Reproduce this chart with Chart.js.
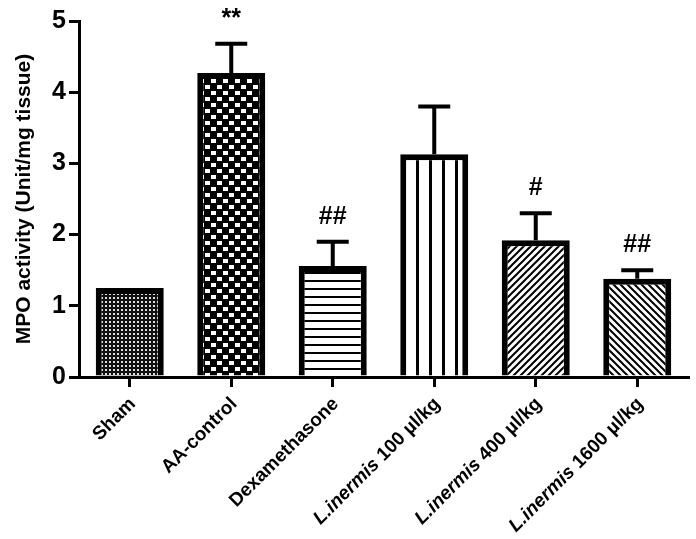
<!DOCTYPE html>
<html>
<head>
<meta charset="utf-8">
<script src="https://cdn.jsdelivr.net/npm/chart.js@4.4.0/dist/chart.umd.min.js"></script>
<style>
  html, body { margin: 0; padding: 0; background: #fff; }
</style>
</head>
<body>
<canvas id="chart" width="696" height="539"></canvas>
<script>
// ---------------------------------------------------------------------------
// Data
// ---------------------------------------------------------------------------
var groupPrefix = ['', '', '', 'L.inermis ', 'L.inermis ', 'L.inermis '];   // italic part
var groupNames  = ['Sham', 'AA-control', 'Dexamethasone', '100 µl/kg', '400 µl/kg', '1600 µl/kg'];
var means  = [1.25, 4.27, 1.56, 3.13, 1.92, 1.38];
var sems   = [0, 0.41, 0.34, 0.67, 0.38, 0.12];
var marks  = ['', '**', '##', '', '#', '##'];
var yTicks = [0, 1, 2, 3, 4, 5];

var FONT = "'Liberation Sans', Arial, sans-serif";

// ---------------------------------------------------------------------------
// Fill patterns for the bars
// ---------------------------------------------------------------------------
function makePattern(size, draw) {
  let c = document.createElement('canvas');
  c.width = size; c.height = size;
  let g = c.getContext('2d');
  draw(g, size);
  return document.getElementById('chart').getContext('2d').createPattern(c, 'repeat');
}

var patterns = [
  // dense dots
  makePattern(4, (g, s) => { g.fillStyle = '#111'; g.fillRect(0, 0, s, s); g.fillStyle = '#ddd'; g.fillRect(1, 1, 2, 2); }),
  // checkerboard
  makePattern(12, (g, s) => { g.fillStyle = '#000'; g.fillRect(0, 0, s, s); g.fillStyle = '#fff'; g.fillRect(1, 1, 5, 4); g.fillRect(7, 7, 5, 4); }),
  // horizontal lines
  makePattern(8, (g, s) => { g.fillStyle = '#fff'; g.fillRect(0, 0, s, s); g.fillStyle = '#000'; g.fillRect(0, 0, s, 2); }),
  // vertical lines
  makePattern(13, (g, s) => { g.fillStyle = '#fff'; g.fillRect(0, 0, s, s); g.fillStyle = '#000'; g.fillRect(0, 0, 3, s); }),
  // diagonal /
  makePattern(7, (g, s) => {
    g.fillStyle = '#fff'; g.fillRect(0, 0, s, s);
    g.strokeStyle = '#000'; g.lineWidth = 2;
    g.beginPath(); g.moveTo(-1, s + 1); g.lineTo(s + 1, -1);
    g.moveTo(-1, 1); g.lineTo(1, -1); g.moveTo(s - 1, s + 1); g.lineTo(s + 1, s - 1); g.stroke();
  }),
  // diagonal \
  makePattern(7, (g, s) => {
    g.fillStyle = '#fff'; g.fillRect(0, 0, s, s);
    g.strokeStyle = '#000'; g.lineWidth = 2;
    g.beginPath(); g.moveTo(-1, -1); g.lineTo(s + 1, s + 1);
    g.moveTo(s - 1, -1); g.lineTo(s + 1, 1); g.moveTo(-1, s - 1); g.lineTo(1, s + 1); g.stroke();
  })
];

// ---------------------------------------------------------------------------
// Plugin: error bars, significance marks and the mixed-style x labels
// ---------------------------------------------------------------------------
var extras = {
  id: 'extras',
  afterDatasetsDraw(chart) {
    let ctx = chart.ctx;
    let y = chart.scales.y;
    let meta = chart.getDatasetMeta(0);
    ctx.save();
    ctx.strokeStyle = '#000';
    ctx.lineWidth = 4;
    meta.data.forEach((bar, i) => {
      let top = y.getPixelForValue(means[i] + sems[i]);
      if (sems[i] > 0) {
        ctx.beginPath();
        ctx.moveTo(bar.x, bar.y);
        ctx.lineTo(bar.x, top);
        ctx.moveTo(bar.x - 16, top);
        ctx.lineTo(bar.x + 16, top);
        ctx.stroke();
      }
      if (marks[i]) {
        ctx.fillStyle = '#000';
        ctx.font = 'bold 25px ' + FONT;
        ctx.textAlign = 'center';
        ctx.textBaseline = 'middle';
        ctx.fillText(marks[i], bar.x, top - 25);
      }
    });
    ctx.restore();
  },
  afterDraw(chart) {
    let ctx = chart.ctx;
    let x = chart.scales.x;
    ctx.save();
    ctx.fillStyle = '#000';
    ctx.textBaseline = 'middle';
    ctx.textAlign = 'right';
    groupNames.forEach((name, i) => {
      let px = x.getPixelForValue(i);
      ctx.save();
      ctx.translate(px + 3, x.top + 24);
      ctx.rotate(-Math.PI / 4);
      ctx.font = 'bold 19px ' + FONT;
      let w = ctx.measureText(name).width;
      ctx.fillText(name, 0, 0);
      if (groupPrefix[i]) {
        ctx.font = 'italic bold 19px ' + FONT;
        ctx.fillText(groupPrefix[i], -w, 0);
      }
      ctx.restore();
    });
    ctx.restore();
  }
};

// ---------------------------------------------------------------------------
// Chart
// ---------------------------------------------------------------------------
var ctx = document.getElementById('chart').getContext('2d');
var chart = new Chart(ctx, {
  type: 'bar',
  data: {
    labels: groupNames.map((n, i) => groupPrefix[i] + n),
    datasets: [{
      data: means,
      backgroundColor: patterns,
      borderColor: '#000',
      borderWidth: 6,
      borderSkipped: 'start',
      barPercentage: 0.67,
      categoryPercentage: 1
    }]
  },
  options: {
    responsive: false,
    animation: false,
    devicePixelRatio: 1,
    layout: { padding: { top: 21, right: 8, left: 0, bottom: 0 } },
    plugins: { legend: { display: false }, tooltip: { enabled: false } },
    scales: {
      x: {
        offset: true,
        grid: { offset: false, drawOnChartArea: false, drawTicks: true, tickLength: 10, lineWidth: 3, color: '#000' },
        border: { display: true, width: 3, color: '#000' },
        ticks: { display: false },
        afterFit: (s) => { s.height = 162; }
      },
      y: {
        min: 0,
        max: 5,
        afterBuildTicks: (s) => { s.ticks = yTicks.map(v => ({ value: v })); },
        ticks: { color: '#000', padding: 3, font: { family: FONT, size: 25, weight: 'bold' } },
        grid: { drawOnChartArea: false, tickLength: 10, lineWidth: 3, color: '#000' },
        border: { display: true, width: 3, color: '#000' },
        title: { display: true, text: 'MPO activity (Unit/mg tissue)', color: '#000', padding: 12,
                 font: { family: FONT, size: 21, weight: 'bold' } },
        afterFit: (s) => { s.width = 79; }
      }
    }
  },
  plugins: [extras]
});
</script>
</body>
</html>
